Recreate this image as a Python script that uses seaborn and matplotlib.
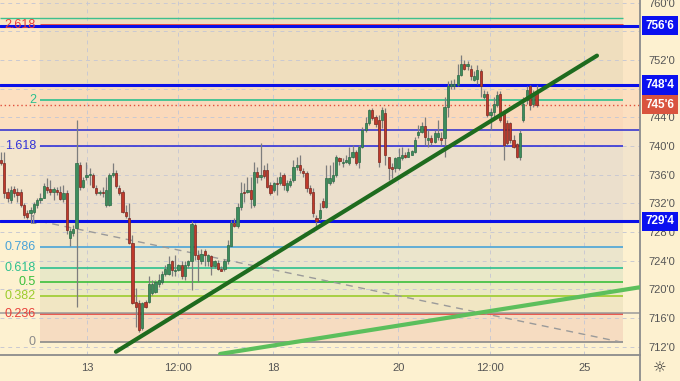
import numpy as np
import pandas as pd
import matplotlib
matplotlib.use("Agg")
import matplotlib.pyplot as plt
import matplotlib.transforms as mtransforms
from matplotlib.lines import Line2D
import seaborn as sns

# ---------------- data ----------------
opens = [738.1, 737.6, 733.6, 732.5, 734.0, 733.6, 733.6, 731.8, 730.6, 730.6,
         730.8, 731.8, 732.4, 732.8, 734.3, 734.0, 733.6, 733.9, 733.6, 732.6,
         733.5, 727.1, 727.9, 728.5, 737.4, 734.3, 735.7, 735.9, 735.9, 734.1,
         733.5, 733.6, 731.8, 731.8, 736.0, 736.3, 734.2, 733.6, 730.8, 729.9,
         726.5, 718.2, 718.1, 714.6, 718.2, 718.3, 719.5, 719.7, 720.8, 721.1,
         722.2, 722.2, 723.9, 722.5, 722.7, 723.4, 721.8, 723.4, 723.9, 729.0,
         724.8, 723.9, 725.3, 723.9, 724.7, 723.2, 723.7, 722.9, 722.8, 723.9,
         726.1, 729.3, 728.8, 731.5, 733.6, 733.6, 733.9, 731.8, 736.4, 735.7,
         736.7, 736.7, 734.6, 733.9, 734.9, 734.8, 736.0, 733.9, 734.6, 735.3,
         737.0, 737.3, 736.5, 736.2, 734.1, 733.6, 730.0, 729.9, 732.3, 731.5,
         734.8, 735.1, 736.0, 738.3, 737.6, 737.8, 737.6, 738.5, 739.2, 737.8,
         739.9, 742.2, 743.2, 745.0, 744.0, 743.6, 743.6, 744.6, 738.4, 737.1,
         736.9, 736.9, 738.3, 738.7, 738.5, 738.8, 739.2, 741.5, 742.0, 742.8,
         740.8, 741.1, 740.6, 741.2, 741.1, 741.1, 745.5, 748.3, 748.4, 748.5,
         749.9, 751.5, 751.1, 750.8, 749.2, 749.4, 750.5, 746.9, 747.3, 744.3,
         744.8, 745.7, 747.3, 744.8, 743.2, 743.2, 740.8, 740.3, 738.4, 743.6,
         746.4, 748.3, 745.9, 747.4]
highs = [739.2, 739.2, 734.1, 734.4, 734.4, 734.1, 734.0, 732.0, 731.1, 731.5,
         732.2, 732.7, 733.4, 734.8, 735.5, 735.3, 734.3, 734.3, 734.4, 734.6,
         733.9, 728.5, 729.0, 743.6, 737.8, 735.7, 737.7, 736.9, 736.2, 734.6,
         733.9, 734.3, 735.7, 736.2, 737.6, 736.7, 734.6, 733.9, 731.8, 732.0,
         727.6, 720.2, 718.5, 718.3, 718.5, 721.8, 721.3, 721.3, 722.2, 722.5,
         723.4, 724.6, 724.1, 724.8, 723.6, 723.9, 723.9, 724.1, 729.5, 729.2,
         725.5, 725.7, 725.7, 725.0, 724.8, 724.1, 724.1, 723.2, 724.3, 726.9,
         729.7, 729.9, 732.0, 735.0, 734.8, 735.7, 735.7, 737.8, 737.1, 740.4,
         737.4, 737.6, 735.0, 735.0, 735.7, 736.4, 736.2, 735.2, 735.5, 738.0,
         738.5, 738.7, 736.9, 736.5, 734.6, 734.1, 730.4, 732.0, 732.7, 737.3,
         737.3, 737.8, 738.7, 738.5, 738.3, 738.7, 739.9, 740.1, 739.4, 740.1,
         742.7, 744.1, 745.2, 745.3, 744.3, 744.3, 745.4, 745.3, 738.5, 737.6,
         738.5, 739.7, 739.9, 739.2, 739.7, 739.4, 741.3, 742.9, 743.4, 744.1,
         742.2, 741.5, 742.2, 743.6, 742.0, 746.9, 749.0, 749.2, 749.4, 751.5,
         752.7, 752.0, 751.8, 751.3, 750.4, 751.3, 750.8, 747.8, 747.6, 745.3,
         746.9, 747.6, 747.6, 745.0, 743.6, 743.4, 741.5, 740.4, 742.2, 746.9,
         748.3, 748.5, 747.8, 748.5]
lows = [737.3, 732.7, 732.2, 732.0, 732.9, 732.2, 731.5, 729.9, 729.8, 729.2,
        730.5, 731.3, 732.0, 732.7, 733.4, 733.2, 732.5, 733.2, 732.4, 732.2,
        727.7, 726.0, 727.4, 717.6, 733.9, 734.1, 735.3, 734.6, 734.1, 733.2,
        733.2, 732.9, 731.5, 731.6, 735.7, 734.1, 733.2, 730.6, 729.9, 726.4,
        718.0, 714.8, 714.1, 714.3, 717.4, 718.1, 719.2, 719.5, 720.4, 720.8,
        721.8, 722.0, 721.8, 721.8, 722.5, 721.5, 721.3, 723.0, 719.9, 724.1,
        721.1, 723.6, 723.2, 723.2, 722.0, 723.0, 722.7, 722.5, 722.6, 723.6,
        726.0, 728.7, 728.5, 731.1, 732.2, 733.4, 731.3, 731.5, 734.8, 735.3,
        735.5, 734.1, 733.2, 733.6, 733.2, 734.6, 733.9, 733.6, 734.3, 735.0,
        736.7, 736.2, 735.7, 733.6, 733.2, 730.1, 728.5, 729.7, 731.3, 731.3,
        734.6, 734.8, 735.7, 737.3, 737.1, 737.6, 737.3, 738.3, 737.3, 736.9,
        739.7, 742.0, 742.9, 743.6, 742.7, 737.1, 742.5, 737.4, 735.3, 735.5,
        736.4, 736.6, 738.0, 738.3, 738.5, 738.7, 739.0, 741.1, 741.8, 740.1,
        739.9, 740.1, 740.4, 740.8, 740.1, 738.5, 744.1, 748.0, 748.0, 748.3,
        749.7, 750.6, 750.6, 749.2, 749.0, 748.7, 746.9, 746.6, 744.1, 742.2,
        744.1, 745.5, 743.4, 738.0, 740.2, 740.4, 739.7, 738.3, 738.1, 743.4,
        745.9, 745.0, 745.5, 745.5]
closes = [737.6, 733.4, 732.7, 733.9, 733.4, 733.2, 731.8, 730.4, 730.1, 731.1,
          731.9, 732.5, 732.8, 734.4, 733.8, 733.6, 734.0, 733.6, 732.6, 733.5,
          728.3, 728.1, 728.4, 737.6, 734.3, 735.3, 736.0, 736.0, 734.3, 733.5,
          733.6, 733.5, 733.9, 736.0, 736.3, 734.4, 733.5, 730.8, 730.2, 726.5,
          718.1, 717.6, 714.3, 718.1, 717.6, 720.8, 720.8, 721.1, 721.3, 722.2,
          722.8, 723.6, 722.7, 722.7, 723.4, 721.8, 723.4, 723.9, 729.1, 724.8,
          724.3, 725.0, 724.8, 724.8, 723.3, 723.9, 722.8, 722.6, 723.9, 726.2,
          729.3, 728.8, 731.5, 733.4, 733.4, 733.9, 732.6, 736.4, 735.7, 736.0,
          735.8, 734.3, 733.4, 734.9, 734.7, 735.7, 734.6, 734.8, 735.1, 737.0,
          737.4, 736.7, 736.2, 734.1, 733.5, 730.6, 729.5, 731.1, 731.5, 735.5,
          735.5, 736.0, 738.5, 737.9, 737.8, 738.0, 738.5, 739.2, 737.6, 739.9,
          742.2, 743.2, 745.0, 743.9, 743.0, 737.8, 745.0, 738.7, 736.9, 736.8,
          738.3, 738.4, 738.7, 738.5, 739.2, 739.3, 740.8, 742.0, 742.8, 741.2,
          741.1, 740.6, 741.8, 741.8, 740.8, 745.5, 748.3, 748.7, 748.7, 749.9,
          751.5, 750.8, 751.5, 749.7, 749.8, 750.6, 748.3, 747.3, 744.3, 744.8,
          745.9, 747.1, 743.6, 740.2, 740.4, 740.8, 739.9, 738.4, 741.8, 745.9,
          747.8, 745.7, 747.3, 745.7]

x_ticks = [26.2, 53.9, 82.8, 120.9, 148.9, 177.5]
x_labels = ["13", "12:00", "18", "20", "12:00", "25"]
y_ticks = [712, 716, 720, 724, 728, 732, 736, 740, 744, 748, 752, 756, 760]
y_hidden = [748, 756]   # covered by the level boxes in the reference

fib_levels = [0, 0.236, 0.382, 0.5, 0.618, 0.786, 1, 1.618, 2, 2.618]
fib_labels = ["0", "0.236", "0.382", "0.5", "0.618", "0.786", "1", "1.618", "2", "2.618"]
fib_colors = ["#8a8a8a", "#e8403a", "#9ccc2c", "#3cbf3c", "#2cc08e", "#4aa3d8",
              "#8a8a8a", "#3232d8", "#2cc08e", "#e8403a"]
fib_price0, fib_price1 = 712.6, 729.5
fib_x0, fib_x1 = 11.87, 189.3

level_prices = [756.75, 748.5, 729.5]
level_labels = ["756'6", "748'4", "729'4"]
plain_blue_level = 742.2
grey_level = 716.75
last_price = 745.75
last_label = "745'6"
top_green_level = 757.9

trend_dark_x = [35.0, 181.4]
trend_dark_y = [711.3, 752.6]
trend_light_x = [66.7, 194.5]
trend_light_y = [711.0, 720.3]

# ---------------- style ----------------
BG = "#fdf1d0"
sns.set_theme(style="white")
plt.rcParams["font.family"] = ["Liberation Sans", "DejaVu Sans"]

fig = plt.figure(figsize=(6.8, 3.81), dpi=100, facecolor=BG)
ax = fig.add_axes([0, 1 - 355 / 381, 640 / 680, 355 / 381])
ax.set_facecolor(BG)
ax.set_xlim(-0.3, 194.5)
ax.set_ylim(710.85, 760.36)

# full-width zones
ax.axhspan(748.5, 761, color="#fbe6c5", zorder=0, lw=0)
ax.axhspan(742.2, 748.5, color="#fcdfc0", zorder=0, lw=0)
ax.axhspan(729.5, 742.2, color="#f3e5cc", zorder=0, lw=0)

# fib fills (opaque pieces)
fib_fill = [(748.5, 761.0, "#efdebe"), (746.4, 748.5, "#f8dbbb"), (742.2, 746.4, "#fad9bb"),
            (740.0, 742.2, "#f3dcc6"), (729.5, 740.0, "#ebdfcc"), (726.0, 729.5, "#efe4c8"),
            (723.0, 726.0, "#ebe5cc"), (721.05, 723.0, "#e9e8c8"), (719.05, 721.05, "#ece9c4"),
            (716.6, 719.05, "#f1e6c3"), (712.6, 716.6, "#f6dcc1")]
for lo, hi, c in fib_fill:
    ax.fill_between([fib_x0, fib_x1], lo, hi, color=c, lw=0, zorder=0.5)

# grid
for t in y_ticks:
    ax.axhline(t, color="#c9c9d2", lw=0.7, ls=(0, (4, 4)), zorder=1)
for t in x_ticks:
    ax.axvline(t, color="#c9c9d2", lw=0.7, ls=(0, (4, 4)), zorder=1)

# fib lines + labels
rng = fib_price1 - fib_price0
for lvl, lab, col in zip(fib_levels, fib_labels, fib_colors):
    p = fib_price0 + lvl * rng
    lw = 2.0 if lvl == 2.618 else 1.2
    ax.hlines(p, fib_x0, fib_x1, color=col, lw=lw, zorder=2)
    ax.text(10.65, p, lab, color=col, fontsize=9, ha="right", va="center", zorder=6)
ax.plot([fib_x0, fib_x1], [fib_price1, fib_price0], color="#9a9a9a", lw=1,
        ls=(0, (5, 4)), zorder=2)

# horizontal lines
ax.hlines(top_green_level, -0.3, fib_x1, color="#3cc08e", lw=1, zorder=2)
for p in level_prices:
    ax.axhline(p, color="#0a10e8", lw=2.2, zorder=2)
ax.axhline(plain_blue_level, color="#2a2ad0", lw=1.1, zorder=2)
ax.axhline(grey_level, color="#9a9a9a", lw=1.1, zorder=2)
ax.axhline(last_price, color="#e0503c", lw=1, ls=(0, (1, 2)), zorder=2)

# candles
df = pd.DataFrame({"o": opens, "h": highs, "l": lows, "c": closes})
df["i"] = np.arange(len(df))
up = df["c"] >= df["o"]
ax.vlines(df["i"], df["l"], df["h"], color="#7d7d7d", lw=0.9, zorder=3)
body_lo = np.minimum(df["o"], df["c"])
body_h = np.maximum(np.abs(df["c"] - df["o"]), 0.15)
ax.bar(df["i"][up], body_h[up], bottom=body_lo[up], width=0.68,
       color="#3d8d5d", edgecolor="#2c6a44", lw=0.5, zorder=4)
ax.bar(df["i"][~up], body_h[~up], bottom=body_lo[~up], width=0.68,
       color="#c0392b", edgecolor="#7a2820", lw=0.5, zorder=4)

# trend lines
tl = pd.DataFrame({"x": trend_dark_x + trend_light_x,
                   "y": trend_dark_y + trend_light_y,
                   "line": ["dark", "dark", "light", "light"]})
sns.lineplot(data=tl, x="x", y="y", hue="line", palette={"dark": "#1e6b1e", "light": "#5cbf5c"},
             linewidth=3, legend=False, ax=ax, zorder=5)

# axes appearance
ax.set_xlabel("")
ax.set_ylabel("")
for s in ["top", "left"]:
    ax.spines[s].set_visible(False)
ax.spines["right"].set_color("#8c8c8c")
ax.spines["right"].set_linewidth(1.3)
ax.spines["bottom"].set_color("#8c8c8c")
ax.spines["bottom"].set_linewidth(1.3)
ax.yaxis.tick_right()
ax.set_yticks(y_ticks)
ax.set_yticklabels(["" if t in y_hidden else f"{t}'0" for t in y_ticks])
ax.tick_params(axis="y", length=0, pad=6, labelsize=8, labelcolor="#555555")
ax.set_xticks(x_ticks)
ax.set_xticklabels(x_labels)
ax.tick_params(axis="x", length=0, pad=6, labelsize=8, labelcolor="#555555")

trans = mtransforms.blended_transform_factory(ax.transAxes, ax.transData)
for p, lab in zip(level_prices, level_labels):
    ax.text(1.0 + 6 / 640, p, lab, transform=trans, ha="left", va="center", fontsize=8.5,
            color="white", fontweight="bold", zorder=10, clip_on=False,
            bbox=dict(boxstyle="square,pad=0.3", fc="#0a10f0", ec="none"))
ax.text(1.0 + 6 / 640, last_price, last_label, transform=trans, ha="left", va="center",
        fontsize=8.5, color="white", fontweight="bold", zorder=10, clip_on=False,
        bbox=dict(boxstyle="square,pad=0.3", fc="#d9543f", ec="none"))

fig.add_artist(Line2D([640 / 680, 640 / 680], [0, 26 / 381], color="#8c8c8c", lw=1.3))
fig.text(660 / 680, 13 / 381, "\u263c", ha="center", va="center", fontsize=11,
         color="#333333", family="DejaVu Sans")

fig.savefig("out.png", dpi=100, facecolor=BG)
